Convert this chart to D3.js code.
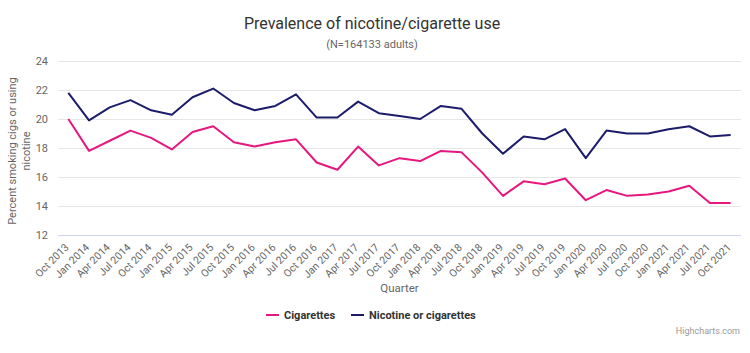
<!DOCTYPE html>
<html><head><meta charset="utf-8">
<script src="https://cdn.jsdelivr.net/npm/d3@7"></script>
<style>
body{margin:0;background:#fff;}
svg{display:block;font-family:Roboto, "Noto Sans", sans-serif;}
</style></head>
<body><svg id="chart" width="750" height="353"></svg>
<script>
const categories = ["Oct 2013","Jan 2014","Apr 2014","Jul 2014","Oct 2014","Jan 2015","Apr 2015","Jul 2015","Oct 2015","Jan 2016","Apr 2016","Jul 2016","Oct 2016","Jan 2017","Apr 2017","Jul 2017","Oct 2017","Jan 2018","Apr 2018","Jul 2018","Oct 2018","Jan 2019","Apr 2019","Jul 2019","Oct 2019","Jan 2020","Apr 2020","Jul 2020","Oct 2020","Jan 2021","Apr 2021","Jul 2021","Oct 2021"];
const cigarettes = [20.0,17.8,18.5,19.2,18.7,17.9,19.1,19.5,18.4,18.1,18.4,18.6,17.0,16.5,18.1,16.8,17.3,17.1,17.8,17.7,16.3,14.7,15.7,15.5,15.9,14.4,15.1,14.7,14.8,15.0,15.4,14.2,14.2];
const nicotine = [21.8,19.9,20.8,21.3,20.6,20.3,21.5,22.1,21.1,20.6,20.9,21.7,20.1,20.1,21.2,20.4,20.2,20.0,20.9,20.7,19.0,17.6,18.8,18.6,19.3,17.3,19.2,19.0,19.0,19.3,19.5,18.8,18.9];
const yTicks = [12,14,16,18,20,22,24];
const seriesNames = ["Cigarettes","Nicotine or cigarettes"];
const colors = ["#e6177f","#1c1c6b"];

const svg = d3.select("#chart");
const pLeft = 58, pRight = 741, pTop = 61, pBottom = 235;

const x = d3.scaleBand().domain(categories).range([pLeft, pRight]);
const y = d3.scaleLinear().domain([12,24]).range([pBottom, pTop]);

svg.append("text").attr("x",372).attr("y",29).attr("text-anchor","middle")
  .attr("font-size",16).attr("fill","#333").text("Prevalence of nicotine/cigarette use");
svg.append("text").attr("x",372).attr("y",48).attr("text-anchor","middle")
  .attr("font-size",11).attr("fill","#666").text("(N=164133 adults)");

// grid
const gy = svg.append("g");
gy.selectAll("line").data(yTicks.filter(d=>d>12)).join("line")
  .attr("x1",pLeft).attr("x2",pRight).attr("y1",d=>Math.round(y(d))+0.5).attr("y2",d=>Math.round(y(d))+0.5)
  .attr("stroke","#e6e6e6");
svg.append("line").attr("x1",pLeft).attr("x2",pRight).attr("y1",pBottom+0.5).attr("y2",pBottom+0.5).attr("stroke","#ccd6eb");

// y labels
svg.append("g").selectAll("text").data(yTicks).join("text")
  .attr("x",48).attr("y",d=>y(d)+4).attr("text-anchor","end")
  .attr("font-size",11).attr("fill","#666").text(d=>d);

// y title
const yt = svg.append("text").attr("transform","translate(16,151) rotate(-90)")
  .attr("text-anchor","middle").attr("font-size",11).attr("fill","#666");
yt.append("tspan").attr("x",0).attr("y",0).text("Percent smoking cigs or using");
yt.append("tspan").attr("x",0).attr("y",14).text("nicotine");

// x labels
svg.append("g").selectAll("text").data(categories).join("text")
  .attr("transform",d=>`translate(${x(d)+x.bandwidth()/2+1},248) rotate(-45)`)
  .attr("text-anchor","end").attr("font-size",10.5).attr("fill","#666").text(d=>d);

svg.append("text").attr("x",(pLeft+pRight)/2).attr("y",292).attr("text-anchor","middle")
  .attr("font-size",11.5).attr("fill","#666").text("Quarter");

// lines
const line = d3.line().x((d,i)=>x(categories[i])+x.bandwidth()/2).y(d=>y(d));
[cigarettes, nicotine].forEach((s,i)=>{
  svg.append("path").datum(s).attr("d",line).attr("fill","none")
    .attr("stroke",colors[i]).attr("stroke-width",2).attr("stroke-linejoin","round");
});

// legend
const lg = svg.append("g");
const legX = [266, 351];
seriesNames.forEach((n,i)=>{
  lg.append("line").attr("x1",legX[i]).attr("x2",legX[i]+13).attr("y1",315).attr("y2",315)
    .attr("stroke",colors[i]).attr("stroke-width",2);
  lg.append("text").attr("x",legX[i]+18).attr("y",319).attr("font-size",11).attr("font-weight","bold")
    .attr("fill","#333").text(n);
});

svg.append("text").attr("x",740).attr("y",334).attr("text-anchor","end")
  .attr("font-size",9).attr("fill","#999").text("Highcharts.com");
</script></body></html>
